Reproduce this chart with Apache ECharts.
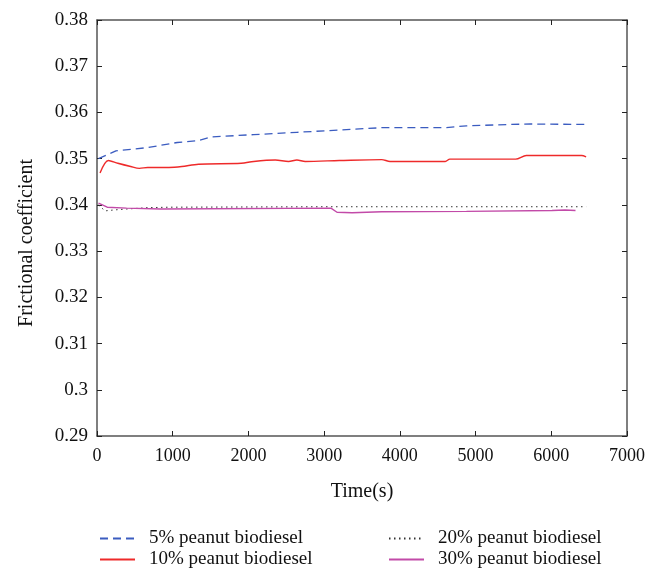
<!DOCTYPE html>
<html>
<head>
<meta charset="utf-8">
<script src="https://cdn.jsdelivr.net/npm/echarts@6/dist/echarts.min.js"></script>
<style>
  html, body { margin: 0; padding: 0; background: #fff; }
  #chart { width: 666px; height: 569px; }
</style>
</head>
<body>
<div id="chart"></div>
<script>
const seriesNames = ['5% peanut biodiesel', '10% peanut biodiesel', '20% peanut biodiesel', '30% peanut biodiesel'];

// 5% peanut biodiesel
const timeA = [20, 250, 670, 1060, 1340, 1510, 2070, 2640, 3200, 3760, 4600, 4880, 5450, 5730, 6460];
const valA = [0.3500, 0.3517, 0.3524, 0.3535, 0.3539, 0.3547, 0.3552, 0.3557, 0.3562, 0.3567, 0.3567, 0.3571, 0.3574, 0.3575, 0.3574];

// 10% peanut biodiesel
const timeB = [40, 150, 275, 445, 560, 670, 950, 1120, 1340, 1905, 2070, 2355, 2530, 2640, 2750, 3200, 3760, 3870, 4600, 4660, 5530, 5670, 6400, 6460];
const valB = [0.3469, 0.3496, 0.3490, 0.3483, 0.3479, 0.3481, 0.3481, 0.3483, 0.3488, 0.3490, 0.3494, 0.3497, 0.3494, 0.3497, 0.3494, 0.3496, 0.3498, 0.3494, 0.3494, 0.3499, 0.3499, 0.3507, 0.3507, 0.3504];

// 20% peanut biodiesel
const timeC = [20, 105, 220, 390, 670, 950, 3090, 6460];
const valC = [0.3400, 0.3387, 0.3389, 0.3391, 0.3394, 0.3395, 0.3396, 0.3396];

// 30% peanut biodiesel
const timeD = [20, 135, 390, 840, 3090, 3170, 3370, 3760, 4880, 6010, 6180, 6320];
const valD = [0.3404, 0.3395, 0.3393, 0.3391, 0.3393, 0.3384, 0.3383, 0.3385, 0.3386, 0.3388, 0.3389, 0.3388];

const xTicks = [0, 1000, 2000, 3000, 4000, 5000, 6000, 7000];
const yTicks = [0.29, 0.30, 0.31, 0.32, 0.33, 0.34, 0.35, 0.36, 0.37, 0.38];

const pairs = (t, v) => t.map((x, i) => [x, v[i]]);
const font = 'Liberation Serif, Times New Roman, serif';
const axisColor = '#555';
const textColor = '#111';
const colors = ['#3b5cc0', '#ee2a2a', '#333', '#c24aa8'];

const chart = echarts.init(document.getElementById('chart'));

const baseAxis = {
  axisLine: { show: true, onZero: false, lineStyle: { color: axisColor, width: 1.5 } },
  axisTick: { show: true, inside: true, length: 5, lineStyle: { color: '#222', width: 1 } },
  splitLine: { show: false },
};

// one legend per entry, two columns of two
const legendPos = [[99, 529], [99, 550], [388, 529], [388, 550]];
const legends = seriesNames.map((name, i) => ({
  data: [name], left: legendPos[i][0], top: legendPos[i][1],
  itemWidth: 35, itemHeight: 14, padding: 0,
  itemStyle: { opacity: 0 },
  textStyle: { fontFamily: font, fontSize: 19, color: textColor, padding: [0, 0, 0, 9] },
}));

chart.setOption({
  animation: false,
  textStyle: { fontFamily: font },
  grid: { left: 97, top: 20, right: 39, bottom: 133 },
  xAxis: [
    {
      ...baseAxis,
      type: 'value', min: xTicks[0], max: xTicks[xTicks.length - 1], interval: 1000,
      name: 'Time(s)', nameLocation: 'middle', nameGap: 46,
      nameTextStyle: { fontFamily: font, fontSize: 20, color: textColor },
      axisLabel: { fontFamily: font, fontSize: 18, color: textColor, margin: 11, formatter: v => String(v) },
    },
    {
      ...baseAxis,
      type: 'value', position: 'top', min: xTicks[0], max: xTicks[xTicks.length - 1], interval: 1000,
      axisLabel: { show: false },
    },
  ],
  yAxis: [
    {
      ...baseAxis,
      type: 'value', min: yTicks[0], max: yTicks[yTicks.length - 1], interval: 0.01,
      name: 'Frictional coefficient', nameLocation: 'middle', nameGap: 60,
      nameTextStyle: { fontFamily: font, fontSize: 20, color: textColor, padding: [0, 30, 0, 0] },
      axisLabel: { fontFamily: font, fontSize: 19, color: textColor, margin: 9, formatter: v => String(+v.toFixed(2)) },
    },
    {
      ...baseAxis,
      type: 'value', position: 'right', min: yTicks[0], max: yTicks[yTicks.length - 1], interval: 0.01,
      axisLabel: { show: false },
    },
  ],
  legend: legends,
  series: [
    {
      name: seriesNames[0], type: 'line', symbol: 'none',
      data: pairs(timeA, valA), color: colors[0],
      lineStyle: { width: 1.3, type: [8, 5], color: colors[0] },
    },
    {
      name: seriesNames[1], type: 'line', symbol: 'none', smooth: 0.3,
      data: pairs(timeB, valB), color: colors[1],
      lineStyle: { width: 1.4, color: colors[1] },
    },
    {
      name: seriesNames[2], type: 'line', symbol: 'none',
      data: pairs(timeC, valC), color: colors[2],
      lineStyle: { width: 1, type: [1.5, 3.5], color: colors[2] },
    },
    {
      name: seriesNames[3], type: 'line', symbol: 'none',
      data: pairs(timeD, valD), color: colors[3],
      lineStyle: { width: 1.4, color: colors[3] },
    },
  ],
});
</script>
</body>
</html>
